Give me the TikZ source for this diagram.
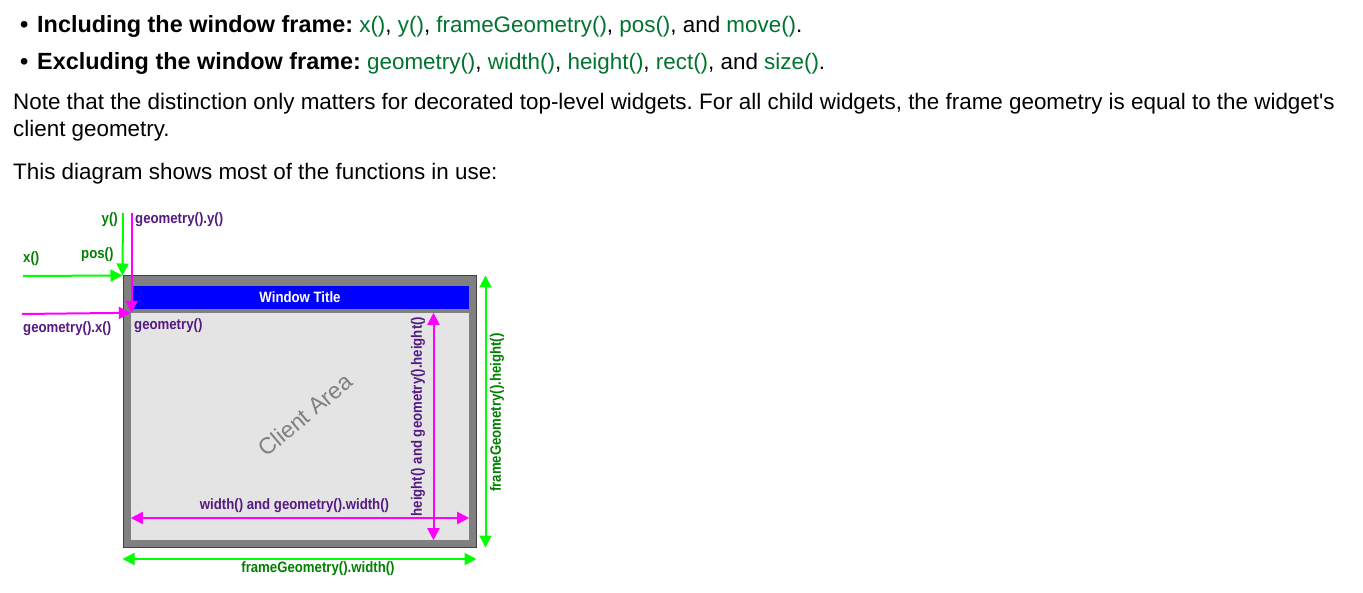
\documentclass[tikz,border=0pt]{standalone}
\usepackage{fontspec}
\setmainfont{Liberation Sans}[Ligatures=TeXOff]
\newfontfamily\labfont[FakeStretch=0.88]{Liberation Sans}
\usetikzlibrary{arrows.meta}
\definecolor{fgreen}{RGB}{0,255,0}
\definecolor{fmag}{RGB}{255,0,255}
\definecolor{lgreen}{RGB}{0,128,0}
\definecolor{lpurple}{RGB}{84,26,130}
\definecolor{linkgreen}{RGB}{0,115,47}
\definecolor{clientgray}{RGB}{228,228,228}
\definecolor{framegray}{RGB}{128,128,128}
\definecolor{titleblue}{RGB}{0,0,255}
\newcommand{\fn}[1]{\textcolor{linkgreen}{#1}}
\newcommand{\bigb}[1]{{\fontsize{23.4}{26}\selectfont\bfseries #1}}
\frenchspacing
\begin{document}
\begin{tikzpicture}[x=1pt,y=-1pt,
  body/.style={inner sep=0pt, anchor=base west, font=\fontsize{22.4}{26}\selectfont},
  lab/.style={inner sep=0pt, font=\labfont\bfseries\fontsize{15}{17}\selectfont},
  glab/.style={lab, text=lgreen},
  plab/.style={lab, text=lpurple},
  tip/.style={-{Triangle[length=12pt,width=12pt]}},
  dtip/.style={{Triangle[length=12pt,width=12pt]}-{Triangle[length=12pt,width=12pt]}},
  garrow/.style={draw=fgreen, line width=2pt},
  parrow/.style={draw=fmag, line width=2pt},
  framebox/.style={draw=black!75, line width=1pt, fill=framegray, inner sep=0pt, minimum width=353pt, minimum height=271pt},
  titlebox/.style={fill=titleblue, inner sep=0pt, minimum width=338pt, minimum height=23pt, text=white, font=\labfont\bfseries\fontsize{15}{17}\selectfont},
  clientbox/.style={fill=clientgray, inner sep=0pt, minimum width=338pt, minimum height=227pt}
]
\fill[white] (0,0) rectangle (1363,593);
\useasboundingbox (0,0) rectangle (1363,593);

% body text
\node[body] (bul1) at (20,33) {\bigb{•}};
\node[body] (line1) at (37,33) {\bigb{Including the window frame:} \fn{x()}, \fn{y()}, \fn{frameGeometry()}, \fn{pos()}, and \fn{move()}.};
\node[body] (bul2) at (20,70) {\bigb{•}};
\node[body] (line2) at (37,70) {\bigb{Excluding the window frame:} \fn{geometry()}, \fn{width()}, \fn{height()}, \fn{rect()}, and \fn{size()}.};
\node[body] (line3) at (13,110) {Note that the distinction only matters for decorated top-level widgets. For all child widgets, the frame geometry is equal to the widget's};
\node[body] (line4) at (13,137) {client geometry.};
\node[body] (line5) at (13,180) {This diagram shows most of the functions in use:};

% window
\node[framebox] (frame) at (299.5,411.5) {};
\node[titlebox] (title) at (300,297.5) {Window Title};
\node[clientbox] (client) at (300,426.5) {};
\node[text=framegray, rotate=40, font=\fontsize{23}{26}\selectfont, inner sep=0pt] (carea) at (305,415) {Client Area};

% free ends
\coordinate (xs) at (23,276);
\coordinate (ys) at (123,213);
\coordinate (gys) at (131.5,213);
\coordinate (gxs) at (22,314);
\coordinate (hx) at (433.5,0);
\coordinate (wy) at (0,518);
\coordinate (fwy) at (0,559);
\coordinate (fhx) at (485.5,0);

% arrows
\draw[garrow,tip] (xs) -- (frame.north west);
\draw[garrow,tip] (ys) -- (frame.north west);
\draw[parrow,tip] (gys) -- (gys |- client.north);
\draw[parrow,tip] (gxs) -- (client.north west);
\draw[parrow,dtip] (client.north -| hx) -- (client.south -| hx);
\draw[parrow,dtip] (client.west |- wy) -- (client.east |- wy);
\draw[garrow,dtip] (frame.west |- fwy) -- (frame.east |- fwy);
\draw[garrow,dtip] (frame.north -| fhx) -- (frame.south -| fhx);

% labels
\node[glab, anchor=east] (ylab) at (118,220) {y()};
\node[plab, anchor=west] (gylab) at (135,220) {geometry().y()};
\node[glab, anchor=west] (xlab) at (23,259) {x()};
\node[glab, anchor=west] (poslab) at (81,255) {pos()};
\node[plab, anchor=west] (gxlab) at (23,329) {geometry().x()};
\node[plab, anchor=west] (glab) at (134,326) {geometry()};
\node[plab] (wlab) at (294.5,506) {width() and geometry().width()};
\node[glab] (fwlab) at (318,569) {frameGeometry().width()};
\node[plab, rotate=90] (hlab) at (418,416.5) {height() and geometry().height()};
\node[glab, rotate=90] (fhlab) at (497,412.5) {frameGeometry().height()};
\end{tikzpicture}
\end{document}
